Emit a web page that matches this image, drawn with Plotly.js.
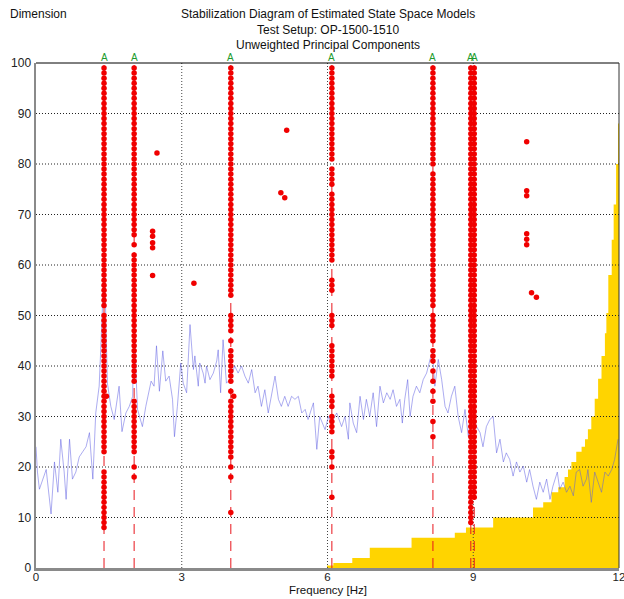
<!DOCTYPE html>
<html>
<head>
<meta charset="utf-8">
<script src="https://cdn.plot.ly/plotly-3.0.1.min.js"></script>
<style>html,body{margin:0;padding:0;background:#fff;}#chart{width:624px;height:599px;}</style>
</head>
<body>
<div id="chart"></div>
<script>
// ---------- DATA ----------
const titleLines = ["Stabilization Diagram of Estimated State Space Models", "Test Setup: OP-1500-1510", "Unweighted Principal Components"];
const xTitle = "Frequency [Hz]";
const yTitle = "Dimension";
const xTicks = [0, 3, 6, 9, 12];
const yTicks = [0, 10, 20, 30, 40, 50, 60, 70, 80, 90, 100];

// stable frequencies (A markers / dashed red lines)
const stableFreq = [1.40, 2.02, 4.01, 6.09, 8.17, 8.95, 9.02];
const stableLabel = ["A", "A", "A", "A", "A", "A", "A"];

// stable poles: model dimensions per column
const dims1 = [99,98,97,96,95,94,93,92,91,90,89,88,87,86,85,84,83,82,81,80,79,78,77,76,75,74,73,72,71,70,69,68,67,66,65,64,63,62,61,60,59,58,57,56,55,54,53,52,
  50,49,48,47,46,45,44,43,42,41,40,39,38,37,36,35,34,33,32,31,30,29,28,27,26,25,24,23,
  19,18,17,16,15,14,13,12,11,10,9,8];
const dims2 = [99,98,97,96,95,94,93,92,91,90,89,88,87,86,85,84,83,82,81,80,79,78,77,76,75,74,73,72,71,70,69,68,67,66,
  64,62,61,60,59,58,57,56,55,54,53,52,51,50,49,48,47,46,45,44,43,42,41,40,39,38,37,
  33,32,31,30,29,28,27,26,25,24,23,20,18];
const dims3 = [99,98,97,96,95,94,93,92,91,90,89,88,87,86,85,84,83,82,81,80,79,78,77,76,75,74,73,72,71,70,69,68,67,66,65,64,63,62,61,60,59,58,57,56,55,54,
  50,49,48,47,45,43,42,41,40,39,38,37,35,33,32,31,30,29,28,27,26,25,24,23,22,20,18,11];
const dims4 = [99,98,97,96,95,94,93,92,91,90,89,88,87,86,85,84,83,82,81,79,78,77,76,
  74,73,72,71,70,69,68,67,66,65,64,63,62,61,57,56,55,50,49,48,44,43,42,41,40,39,38,
  34,33,32,30,29,28,27,23,22,20,14];
const dims5 = [99,98,97,96,95,94,93,92,91,90,89,88,87,86,85,84,83,82,81,80,78,77,76,75,
  74,73,72,71,70,69,68,67,66,65,64,63,62,61,60,59,58,57,56,55,54,53,52,
  50,49,48,47,46,45,43,42,41,39,37,35,33,29,26];
const dims6 = [99,98,97,96,95,94,93,92,91,90,89,88,87,86,85,84,83,82,81,80,79,78,77,76,75,74,73,72,71,70,69,68,67,66,65,64,63,62,61,60,59,58,57,56,55,54,53,52,51,50,
  49,48,47,46,45,44,43,42,41,40,39,38,37,36,35,34,33,32,31,30,29,28,27,26,25,24,23,22,21,20,19,18,17,16,15,14,13,12,11,10,9];
const dims7 = [99,98,97,96,95,94,93,92,91,90,89,88,87,86,85,84,83,82,81,80,79,78,77,76,75,74,73,72,71,70,69,68,67,66,65,64,63,62,61,60,59,58,57,56,55,54,53,52,51,50,
  49,48,47,46,45,44,43,42,41,40,39,38,37,36,35,34,33,32,31,30,29,28,27,26,25,24,23,22,21,20,19,18,17,16,15,14];
const stableDims = [dims1, dims2, dims3, dims4, dims5, dims6, dims7];

// isolated poles
const looseFreq = [1.45, 4.07, 2.49, 2.40, 2.40, 2.40, 2.40, 2.40, 3.25, 5.04, 5.12, 5.16, 10.10, 10.10, 10.10, 10.10, 10.10, 10.10, 10.20, 10.30];
const looseDim  = [34, 34, 82.2, 66.7, 65.7, 64.4, 63.4, 57.9, 56.4, 74.3, 73.3, 86.7, 84.4, 74.7, 73.7, 66.2, 65.1, 64.0, 54.5, 53.6];

// spectrum (scaled to dimension axis)
const specFreq = [0.00,0.03,0.07,0.14,0.21,0.31,0.38,0.45,0.51,0.58,0.62,0.69,0.75,0.82,0.89,0.96,1.03,1.10,1.17,1.23,1.30,1.34,1.37,1.41,1.44,1.47,1.54,1.61,1.71,1.77,1.85,1.92,1.99,2.02,2.06,2.09,2.19,2.26,2.37,2.43,2.48,2.54,2.61,2.67,2.74,2.81,2.85,2.91,2.98,
  3.03,3.10,3.17,3.24,3.27,3.31,3.34,3.37,3.44,3.48,3.51,3.58,3.65,3.72,3.75,3.80,3.85,3.92,3.99,4.09,4.16,4.23,4.30,4.37,4.44,4.51,4.57,4.64,4.71,4.78,4.85,4.92,4.99,5.05,5.12,5.19,5.26,5.33,5.40,5.47,5.54,5.60,5.71,5.78,5.84,5.95,
  6.02,6.08,6.19,6.29,6.36,6.43,6.46,6.53,6.60,6.67,6.74,6.80,6.87,6.94,7.01,7.08,7.15,7.22,7.29,7.35,7.42,7.49,7.54,7.59,7.65,7.70,7.76,7.83,7.90,7.97,8.04,8.11,8.16,8.21,8.28,8.35,8.42,8.48,8.55,8.62,8.69,8.76,8.83,8.90,8.96,
  9.07,9.14,9.20,9.27,9.34,9.41,9.48,9.55,9.62,9.68,9.75,9.82,9.89,9.96,10.03,10.10,10.16,10.23,10.30,10.37,10.44,10.51,10.58,10.64,10.73,10.78,10.85,10.92,10.99,11.06,11.12,11.19,11.26,11.33,11.36,11.43,11.50,11.57,11.64,11.71,11.78,11.85,11.91,11.98];
const specVal = [24,19,15.6,17.6,19.5,10.7,21,15,25.5,19,13.6,25.5,17.6,19,22,23,24,26.8,17.6,30.7,36,45,52,62,48,36.6,32,29.4,36,27,30.7,32,34,53,38,31.4,28,32,37,36,44,35,43,37,38,33.4,26,32,40.6,
  36.6,34.7,48.2,39.3,42,38.6,36,40.6,38.6,36.6,40,37.3,38.6,41,43.2,34.7,45.2,36.6,37.3,40,38.6,40,38,36.6,39.3,34.7,36,32,35.3,30.7,34,38,33.4,32,34,32,34,33.4,34,30.7,31.4,29.4,32.7,23.5,30,27.4,
  30,28.7,30.7,28,30,25.5,32.7,28.7,26.8,34,29.4,33.4,30,34.7,28,36,32.7,34.7,33.4,35.3,32,33.4,28.7,33.4,37.3,30,34,36,34.7,37.3,38.6,41.3,42.6,36,41.3,37.3,32,30.7,34,36,30,26.8,31.4,26,30.7,
  28,26.8,24,28,29.4,30,22.8,25.5,21,22.8,21.5,18.2,21,19,20.2,17,19.5,16.2,13.6,17,15,17.6,13.6,16.2,19,15.6,17,15,16.2,14.3,19,19.5,16.2,17.6,19.5,13,19,17,15,19,18.2,19.5,21.5,25.5];

// yellow region (stepped boundary)
const fillFreq = [5.99,6.12,6.51,6.87,7.73,8.62,8.85,9.41,10.23,10.44,10.61,10.75,10.88,10.95,11.02,11.12,11.23,11.30,11.36,11.43,11.50,11.57,11.64,11.71,11.74,11.78,11.85,11.89,11.94,11.98,12.0];
const fillDim  = [0.5,1,2,4,6,7,8,10,12,13,15,16,18,19.5,21,23,24,25.5,27.5,30,33.5,37.5,42,46.5,50.5,58,65,72,80,88,88];

// ---------- CHART ----------
const FONT = "Arial, 'Liberation Sans', sans-serif";
const traces = [];

traces.push({x: fillFreq, y: fillDim, type: "scatter", mode: "lines", line: {shape: "hv", width: 0, color: "#ffd400"},
  fill: "tozeroy", fillcolor: "#ffd400", hoverinfo: "skip", showlegend: false});

// grid lines (drawn above the yellow fill)
yTicks.filter(v => v > 0 && v < 100).forEach(v => traces.push({x: [xTicks[0], xTicks[xTicks.length-1]], y: [v, v], type: "scatter", mode: "lines",
  line: {color: "#222", width: 1, dash: "1px,2px"}, hoverinfo: "skip", showlegend: false}));
xTicks.filter(v => v > 0 && v < 12).forEach(v => traces.push({x: [v, v], y: [0, 100], type: "scatter", mode: "lines",
  line: {color: "#444", width: 1, dash: "1px,2px"}, hoverinfo: "skip", showlegend: false}));

traces.push({x: specFreq, y: specVal, type: "scatter", mode: "lines", line: {color: "rgba(90,90,225,0.5)", width: 1}, hoverinfo: "skip", showlegend: false});

stableFreq.forEach(f => traces.push({x: [f, f], y: [0, 100], type: "scatter", mode: "lines",
  line: {color: "#e8141b", width: 1, dash: "10px,7px"}, hoverinfo: "skip", showlegend: false}));

stableDims.forEach((d, i) => traces.push({x: d.map(() => stableFreq[i]), y: d, type: "scatter", mode: "markers",
  marker: {symbol: "circle", size: 5.5, color: "#f00000"}, showlegend: false}));
traces.push({x: looseFreq, y: looseDim, type: "scatter", mode: "markers", marker: {symbol: "circle", size: 5.5, color: "#f00000"}, showlegend: false});

const annotations = [];
const titleY = [1.097, 1.065, 1.0356];
titleLines.forEach((t, i) => annotations.push({text: t, xref: "paper", yref: "paper", x: 0.5, y: titleY[i], xanchor: "center", yanchor: "middle",
  showarrow: false, font: {family: FONT, size: 12, color: "#111"}}));
annotations.push({text: yTitle, xref: "paper", yref: "paper", x: -0.048, y: 1.097, xanchor: "left", yanchor: "middle",
  showarrow: false, font: {family: FONT, size: 12, color: "#111"}});
annotations.push({text: xTitle, xref: "paper", yref: "paper", x: 0.5, y: -0.0436, xanchor: "center", yanchor: "middle",
  showarrow: false, font: {family: FONT, size: 11.5, color: "#111"}});
stableFreq.forEach((f, i) => annotations.push({text: stableLabel[i], xref: "x", yref: "paper", x: f, y: 1, xanchor: "center", yanchor: "bottom",
  showarrow: false, font: {family: FONT, size: 10, color: "#1c9a2c"}, borderpad: 0, yshift: -1}));

const layout = {
  width: 624, height: 599,
  margin: {l: 36, r: 5, t: 63, b: 31, pad: 0},
  paper_bgcolor: "#fff", plot_bgcolor: "#fff",
  showlegend: false,
  xaxis: {range: [0, 12], tickvals: xTicks, ticktext: xTicks.map(String), showgrid: false, zeroline: false,
    showline: true, linecolor: "#8a8a8a", linewidth: 2.5, ticks: "", ticklabeloverflow: "allow", ticklabelstandoff: -3,
    tickfont: {family: FONT, size: 11.5, color: "#222"}, automargin: false, fixedrange: true},
  yaxis: {range: [0, 100], tickvals: yTicks, ticktext: yTicks.map(String), showgrid: false, zeroline: false,
    showline: true, linecolor: "#8a8a8a", linewidth: 2.5, ticks: "", ticklabeloverflow: "allow",
    tickfont: {family: FONT, size: 12, color: "#222"}, automargin: false, fixedrange: true},
  shapes: [
    {type: "line", xref: "paper", yref: "paper", x0: 0, x1: 1, y0: 1, y1: 1, line: {color: "#000", width: 1}},
    {type: "line", xref: "paper", yref: "paper", x0: 1, x1: 1, y0: 0, y1: 1, line: {color: "#333", width: 1}}
  ],
  annotations: annotations
};

Plotly.newPlot("chart", traces, layout, {displayModeBar: false, staticPlot: true});
</script>
</body>
</html>
